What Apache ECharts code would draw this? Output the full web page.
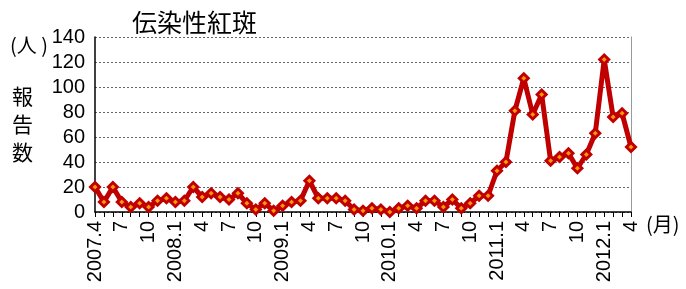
<!DOCTYPE html>
<html>
<head>
<meta charset="utf-8">
<script src="https://cdn.jsdelivr.net/npm/echarts@6/dist/echarts.min.js"></script>
<style>
html,body{margin:0;padding:0;background:#fff;}
#chart{width:686px;height:289px;}
</style>
</head>
<body>
<div id="chart"></div>
<script>
// 月別カテゴリ（2007.4 - 2012.4）
var months = [
	'2007.4','2007.5','2007.6','2007.7','2007.8','2007.9','2007.10','2007.11','2007.12',
	'2008.1','2008.2','2008.3','2008.4','2008.5','2008.6','2008.7','2008.8','2008.9','2008.10','2008.11','2008.12',
	'2009.1','2009.2','2009.3','2009.4','2009.5','2009.6','2009.7','2009.8','2009.9','2009.10','2009.11','2009.12',
	'2010.1','2010.2','2010.3','2010.4','2010.5','2010.6','2010.7','2010.8','2010.9','2010.10','2010.11','2010.12',
	'2011.1','2011.2','2011.3','2011.4','2011.5','2011.6','2011.7','2011.8','2011.9','2011.10','2011.11','2011.12',
	'2012.1','2012.2','2012.3','2012.4'
];
// 報告数
var reports = [
	20, 8, 20, 8, 4, 7, 4, 9, 11,
	8, 9, 20, 12, 15, 12, 10, 15, 7, 2, 7, 1,
	5, 8, 9, 25, 11, 11, 11, 9, 2, 1, 3, 2,
	0, 3, 5, 3, 9, 9, 4, 10, 3, 7, 13, 13,
	33, 40, 81, 107, 78, 94, 41, 44, 47, 35, 46, 63,
	122, 76, 79, 52
];
var yTicks = {min: 0, max: 140, step: 20};

var font = '"Liberation Sans", Arial, sans-serif';
var jpFont = '"Noto Sans CJK JP", sans-serif';

var chart = echarts.init(document.getElementById('chart'));
var option = {
	animation: false,
	grid: {left: 95, right: 55, top: 37, bottom: 77},
	title: {
		text: '伝染性紅斑',
		left: 127, top: 5,
		textStyle: {fontFamily: jpFont, fontSize: 25, fontWeight: 'normal', color: '#000'}
	},
	graphic: [
		{type: 'text', left: 10, top: 35, style: {text: '(人 )', fontFamily: jpFont, fontSize: 20, fill: '#000'}},
		{type: 'text', left: 12, top: 82, style: {text: '報\n告\n数', fontFamily: jpFont, fontSize: 21, lineHeight: 28, fill: '#000'}},
		{type: 'text', left: 646, top: 214, style: {text: '(月)', fontFamily: jpFont, fontSize: 20, fill: '#000'}}
	],
	xAxis: {
		type: 'category',
		data: months,
		boundaryGap: false,
		axisLine: {lineStyle: {color: '#000', width: 1.5}},
		axisTick: {show: true, interval: 0, length: 5, lineStyle: {color: '#000'}},
		axisLabel: {
			interval: 2,
			rotate: 90,
			margin: 9,
			fontFamily: font,
			fontSize: 20,
			color: '#000',
			formatter: function (v, i) {
				var p = v.split('.');
				return (i === 0 || p[1] === '1') ? v : p[1];
			}
		},
		splitLine: {show: false}
	},
	yAxis: [
		{
			type: 'value',
			min: yTicks.min, max: yTicks.max, interval: yTicks.step,
			axisLine: {show: true, lineStyle: {color: '#000', width: 1.5}},
			axisTick: {show: false},
			axisLabel: {fontFamily: font, fontSize: 20, color: '#000', margin: 10},
			splitLine: {show: true, lineStyle: {color: '#666', type: [2, 2], width: 1}}
		},
		{
			type: 'value',
			position: 'right',
			min: yTicks.min, max: yTicks.max, interval: yTicks.step,
			axisLine: {show: true, lineStyle: {color: '#999', width: 1}},
			axisTick: {show: false},
			axisLabel: {show: false},
			splitLine: {show: false}
		}
	],
	series: [
		{
			name: '伝染性紅斑',
			type: 'line',
			data: reports,
			symbol: 'diamond',
			symbolSize: 9,
			showAllSymbol: true,
			lineStyle: {color: '#C00000', width: 5},
			itemStyle: {color: '#FF9900', borderColor: '#C00000', borderWidth: 3}
		}
	]
};
chart.setOption(option);
</script>
</body>
</html>
